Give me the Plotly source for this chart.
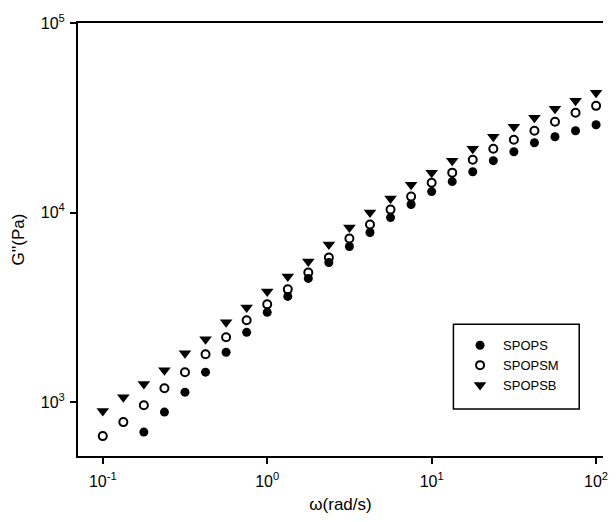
import plotly.graph_objects as go

# angular frequency (rad/s), 8 points per decade from 0.1 to 100
omega = [0.1, 0.1334, 0.1778, 0.2371, 0.3162, 0.4217, 0.5623, 0.7499, 1.0,
         1.334, 1.778, 2.371, 3.162, 4.217, 5.623, 7.499, 10.0,
         13.34, 17.78, 23.71, 31.62, 42.17, 56.23, 74.99, 100.0]

spops_omega = omega[2:]
spops = [695, 886, 1129, 1439, 1833, 2335, 2977, 3614, 4497, 5456, 6627, 7848,
         9413, 11030, 12900, 14570, 16430, 18790, 20940, 23350, 25120, 27020, 29040]
spopsm = [662, 785, 964, 1185, 1439, 1790, 2198, 2702, 3280, 3935, 4831, 5797,
          7297, 8650, 10370, 12140, 14380, 16240, 19010, 21730, 24230, 27020,
          30130, 33600, 36560]
spopsb = [898, 1062, 1245, 1473, 1811, 2147, 2637, 3162, 3838, 4603, 5521, 6786,
          8337, 10000, 11850, 14040, 16240, 18790, 21730, 25120, 28370, 31620,
          35250, 38850, 42820]

tick_vals_x = [0.1, 1, 10, 100]
tick_text_x = ["10<sup>-1</sup>", "10<sup>0</sup>", "10<sup>1</sup>", "10<sup>2</sup>"]
tick_vals_y = [1000, 10000, 100000]
tick_text_y = ["10<sup>3</sup>", "10<sup>4</sup>", "10<sup>5</sup>"]

font = "Liberation Sans, Arial, sans-serif"

fig = go.Figure()
fig.add_trace(go.Scatter(x=spops_omega, y=spops, mode="markers", name="SPOPS",
                         marker=dict(symbol="circle", size=9, color="black")))
fig.add_trace(go.Scatter(x=omega, y=spopsm, mode="markers", name="SPOPSM",
                         marker=dict(symbol="circle-open", size=8, color="black",
                                     line=dict(width=2, color="black"))))
fig.add_trace(go.Scatter(x=omega, y=spopsb, mode="markers", name="SPOPSB",
                         marker=dict(symbol="triangle-down", size=11, color="black")))

# legend frame
fig.add_shape(type="rect", xref="paper", yref="paper",
              x0=0.7151, x1=0.9547, y0=0.1083, y1=0.3041,
              line=dict(color="black", width=1.5), fillcolor="white", layer="below")

fig.update_layout(
    width=600, height=506,
    margin=dict(l=70, r=0, t=15, b=57),
    paper_bgcolor="white", plot_bgcolor="white",
    font=dict(family=font, size=14, color="black"),
    showlegend=True,
    legend=dict(x=0.722, y=0.2903, xanchor="left", yanchor="top",
                borderwidth=0, bgcolor="rgba(0,0,0,0)",
                font=dict(family=font, size=13, color="black"),
                tracegroupgap=0, itemwidth=36),
)
fig.update_xaxes(type="log", range=[-1.1506, 2.042], showgrid=False, zeroline=False,
                 showline=True, linecolor="black", linewidth=2, mirror=True,
                 ticks="outside", ticklen=6, tickwidth=2, tickcolor="black",
                 tickvals=tick_vals_x, ticktext=tick_text_x, ticklabelstandoff=4,
                 ticklabeloverflow="allow",
                 tickfont=dict(family=font, size=16),
                 title=dict(text="ω(rad/s)", font=dict(family=font, size=17), standoff=12))
fig.update_yaxes(type="log", range=[2.716, 5.0], showgrid=False, zeroline=False,
                 showline=True, linecolor="black", linewidth=2,
                 ticks="outside", ticklen=6, tickwidth=2, tickcolor="black",
                 tickvals=tick_vals_y, ticktext=tick_text_y, ticklabelstandoff=2,
                 ticklabeloverflow="allow",
                 tickfont=dict(family=font, size=16),
                 title=dict(text="G''(Pa)", font=dict(family=font, size=17), standoff=12))

fig.write_html("out.html")
